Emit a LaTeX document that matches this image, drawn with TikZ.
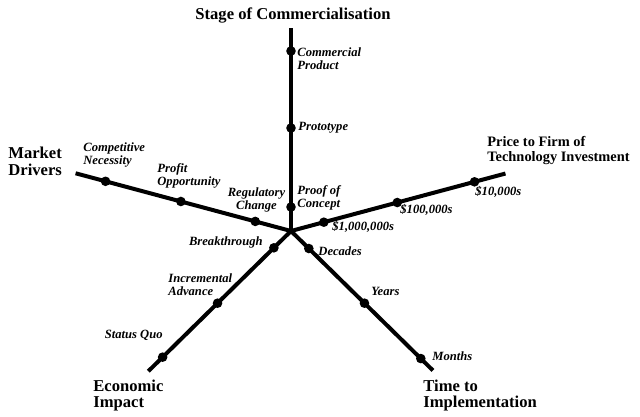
\documentclass[tikz,border=0pt]{standalone}
\usepackage{fontspec}
\setmainfont{Liberation Serif}

\begin{document}
\begin{tikzpicture}[
  x=0.5pt, y=0.5pt,
  axis/.style={line width=2pt},
  tickdot/.style={circle, fill=black, inner sep=0pt, minimum size=4.8pt},
  lab/.style={inner sep=0pt, align=left, font=\bfseries\itshape\fontsize{6.3}{6.5}\selectfont},
  head/.style={inner sep=0pt, align=left, font=\bfseries\fontsize{8.3}{8.2}\selectfont}
]
  \useasboundingbox (-291,-185) rectangle (349,231);

  % Centre and axis ends
  \coordinate (O) at (0,0);
  \coordinate (stageEnd) at (90:203);
  \coordinate (driverEnd) at (165:223);
  \coordinate (priceEnd) at (15:222);
  \coordinate (impactEnd) at (224.5:200);
  \coordinate (timeEnd) at (315.5:199);

  % Axes
  \draw[axis] (O) -- (stageEnd);
  \draw[axis] (O) -- (driverEnd);
  \draw[axis] (O) -- (priceEnd);
  \draw[axis] (O) -- (impactEnd);
  \draw[axis] (O) -- (timeEnd);

  % Points on the axes
  \node[tickdot] (prod) at (90:180) {};
  \node[tickdot] (proto) at (90:103) {};
  \node[tickdot] (proof) at (90:24) {};

  \node[tickdot] (compet) at (165:192) {};
  \node[tickdot] (profit) at (165:114) {};
  \node[tickdot] (regul) at (165:37) {};

  \node[tickdot] (tenK) at (15:190) {};
  \node[tickdot] (hundK) at (15:110) {};
  \node[tickdot] (mill) at (15:34) {};

  \node[tickdot] (quo) at (224.5:180) {};
  \node[tickdot] (incr) at (224.5:103) {};
  \node[tickdot] (brk) at (224.5:24) {};

  \node[tickdot] (dec) at (315.5:25) {};
  \node[tickdot] (yrs) at (315.5:103) {};
  \node[tickdot] (mon) at (315.5:182) {};

  % Point labels
  \node[lab, anchor=west] (prodL) at (6,172.5) {Commercial\\Product};
  \node[lab, anchor=west] (protoL) at (7,103) {Prototype};
  \node[lab, anchor=west] (proofL) at (6,33.5) {Proof of\\Concept};

  \node[lab, anchor=west] (competL) at (-208,76) {Competitive\\Necessity};
  \node[lab, anchor=west] (profitL) at (-134,55.5) {Profit\\Opportunity};
  \node[lab, align=center] (regulL) at (-34.5,31.5) {Regulatory\\Change};

  \node[lab, anchor=west] (millL) at (41,4) {\$1,000,000s};
  \node[lab, anchor=west] (hundKL) at (109,21) {\$100,000s};
  \node[lab, anchor=west] (tenKL) at (184,39) {\$10,000s};

  \node[lab, anchor=east] (brkL) at (-28,-11) {Breakthrough};
  \node[lab, anchor=west] (incrL) at (-123,-53.5) {Incremental\\Advance};
  \node[lab, anchor=east] (quoL) at (-128,-104) {Status Quo};

  \node[lab, anchor=west] (decL) at (27,-20) {Decades};
  \node[lab, anchor=west] (yrsL) at (80,-60) {Years};
  \node[lab, anchor=west] (monL) at (141,-125) {Months};

  % Axis titles
  \node[head] (stageT) at (2,216) {Stage of Commercialisation};
  \node[head, anchor=west] (driverT) at (-283,69.5) {Market\\Drivers};
  \node[head, anchor=west, font=\bfseries\fontsize{7.2}{7.5}\selectfont] (priceT) at (196,80.5) {Price to Firm of\\Technology Investment};
  \node[head, anchor=west] (impactT) at (-198,-164.5) {Economic\\Impact};
  \node[head, anchor=west] (timeT) at (132,-164.5) {Time to\\Implementation};

\end{tikzpicture}
\end{document}
